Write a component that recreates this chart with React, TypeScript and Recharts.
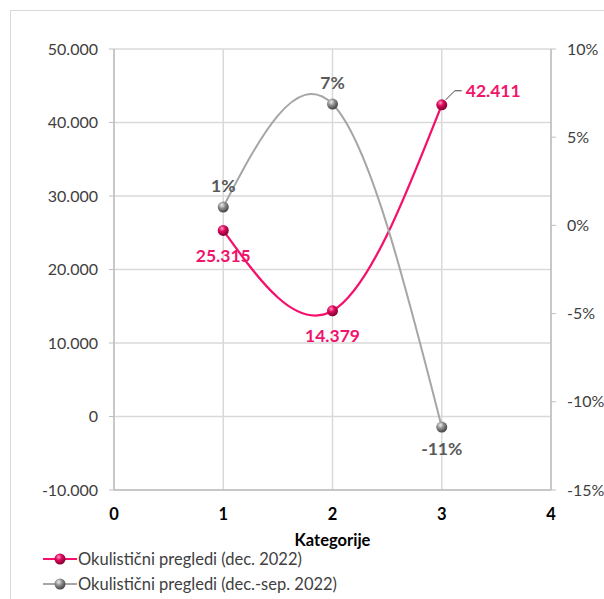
import { LineChart, Line, XAxis, YAxis, CartesianGrid, LabelList, Label } from "recharts";

// categories on the numeric x axis
const categories = [1, 2, 3];
// number of eye exams, December 2022
const pregledi = [25315, 14379, 42411];
// change Dec vs Sep 2022, in percent
const promjena = [1.04, 6.88, -11.43];

const xTicks = [0, 1, 2, 3, 4];
const leftTicks = [-10000, 0, 10000, 20000, 30000, 40000, 50000];
const rightTicks = [-15, -10, -5, 0, 5, 10];
const seriesNames = [
  "Okulistični pregledi (dec. 2022)",
  "Okulistični pregledi (dec.-sep. 2022)",
];

const data = categories.map((k, i) => ({
  k,
  pregledi: pregledi[i],
  promjena: promjena[i],
}));

const PINK = "#f5106c";
const PINK_TEXT = "#f0146c";
const GRAY = "#a6a6a6";
const GRAY_TEXT = "#595959";
const FONT = "Lato, 'Open Sans', sans-serif";
const LABEL_SIZE = 17.5;

const fmtThousands = (v: number) => {
  const s = Math.abs(v).toString().replace(/\B(?=(\d{3})+(?!\d))/g, ".");
  return v < 0 ? "-" + s : s;
};

const Ball = (fill: string) => (props: any) => {
  const { cx, cy, index } = props;
  if (cx == null || cy == null) return null;
  return <circle key={index} cx={cx} cy={cy} r={5.5} fill={fill} />;
};

const pinkLabel = (props: any) => {
  const { x, y, value, index } = props;
  if (index === 2) {
    return (
      <g>
        <path
          d={`M${x + 4},${y - 5} L${x + 13},${y - 14} L${x + 20},${y - 14}`}
          stroke="#404040"
          strokeWidth={1}
          fill="none"
        />
        <text
          x={x + 24}
          y={y - 14}
          dominantBaseline="central"
          fill={PINK_TEXT}
          fontSize={LABEL_SIZE}
          fontWeight={700}
          fontFamily={FONT}
        >
          {fmtThousands(value)}
        </text>
      </g>
    );
  }
  return (
    <text
      x={x}
      y={y + 25}
      textAnchor="middle"
      dominantBaseline="central"
      fill={PINK_TEXT}
      fontSize={LABEL_SIZE}
      fontWeight={700}
      fontFamily={FONT}
    >
      {fmtThousands(value)}
    </text>
  );
};

const grayLabel = (props: any) => {
  const { x, y, value, index } = props;
  const dy = index === 2 ? 21 : -22;
  return (
    <text
      x={x}
      y={y + dy}
      textAnchor="middle"
      dominantBaseline="central"
      fill={GRAY_TEXT}
      fontSize={LABEL_SIZE}
      fontWeight={700}
      fontFamily={FONT}
    >
      {Math.round(value) + "%"}
    </text>
  );
};

const LegendIcon = ({ color, ball }: { color: string; ball: string }) => (
  <svg width={34} height={14} style={{ display: "block" }}>
    <line x1={0} y1={7} x2={34} y2={7} stroke={color} strokeWidth={2} />
    <circle cx={17} cy={7} r={5.5} fill={ball} />
  </svg>
);

export default function App() {
  return (
    <div
      style={{
        position: "absolute",
        left: 0,
        top: 0,
        width: 604,
        height: 599,
        overflow: "hidden",
        background: "#fff",
        fontFamily: FONT,
      }}
    >
      <svg width={0} height={0} style={{ position: "absolute" }}>
        <defs>
          <radialGradient id="ballPink" cx="38%" cy="32%" r="70%">
            <stop offset="0%" stopColor="#ff9cc2" />
            <stop offset="40%" stopColor="#e00a5e" />
            <stop offset="100%" stopColor="#7a0030" />
          </radialGradient>
          <radialGradient id="ballGray" cx="38%" cy="32%" r="70%">
            <stop offset="0%" stopColor="#eeeeee" />
            <stop offset="45%" stopColor="#8c8c8c" />
            <stop offset="100%" stopColor="#404040" />
          </radialGradient>
        </defs>
      </svg>
      <div
        style={{
          position: "absolute",
          left: 10,
          top: 10,
          width: 620,
          height: 620,
          border: "1px solid #d9d9d9",
        }}
      />
      <div style={{ position: "absolute", left: 0, top: 0 }}>
        <LineChart
          width={604}
          height={599}
          data={data}
          margin={{ top: 49, right: 0, bottom: 49, left: 0 }}
        >
          <CartesianGrid yAxisId="left" stroke="#d9d9d9" strokeWidth={1.5} />
          <XAxis
            dataKey="k"
            type="number"
            domain={[0, 4]}
            ticks={xTicks}
            height={60}
            tickLine={false}
            tickMargin={12}
            axisLine={{ stroke: "#bfbfbf", strokeWidth: 1.5 }}
            tick={{ fill: "#000", fontSize: 16.5, fontWeight: 700, fontFamily: FONT }}
          >
            <Label
              value="Kategorije"
              position="insideBottom"
              offset={4}
              fill="#000"
              fontSize={16.5}
              fontWeight={700}
              fontFamily={FONT}
            />
          </XAxis>
          <YAxis
            yAxisId="left"
            domain={[-10000, 50000]}
            ticks={leftTicks}
            width={114}
            tickSize={5}
            tickMargin={11}
            tickFormatter={fmtThousands}
            axisLine={{ stroke: "#bfbfbf", strokeWidth: 1.5 }}
            tickLine={{ stroke: "#bfbfbf" }}
            tick={{ fill: "#404040", fontSize: 16, fontFamily: FONT }}
          />
          <YAxis
            yAxisId="right"
            orientation="right"
            domain={[-15, 10]}
            ticks={rightTicks}
            width={53}
            tickSize={5}
            tickMargin={11}
            tickFormatter={(v: number) => `${v}%`}
            axisLine={{ stroke: "#bfbfbf", strokeWidth: 1.5 }}
            tickLine={{ stroke: "#bfbfbf" }}
            tick={{ fill: "#404040", fontSize: 16, fontFamily: FONT }}
          />
          <Line
            yAxisId="left"
            dataKey="pregledi"
            name={seriesNames[0]}
            type="natural"
            stroke={PINK}
            strokeWidth={2.25}
            dot={Ball("url(#ballPink)")}
            activeDot={false}
            isAnimationActive={false}
          >
            <LabelList dataKey="pregledi" content={pinkLabel} />
          </Line>
          <Line
            yAxisId="right"
            dataKey="promjena"
            name={seriesNames[1]}
            type="natural"
            stroke={GRAY}
            strokeWidth={2}
            dot={Ball("url(#ballGray)")}
            activeDot={false}
            isAnimationActive={false}
          >
            <LabelList dataKey="promjena" content={grayLabel} />
          </Line>
        </LineChart>
      </div>
      {[
        { name: seriesNames[0], color: PINK, ball: "url(#ballPink)", top: 549 },
        { name: seriesNames[1], color: GRAY, ball: "url(#ballGray)", top: 574 },
      ].map((s) => (
        <div
          key={s.name}
          style={{
            position: "absolute",
            left: 43,
            top: s.top,
            height: 20,
            display: "flex",
            alignItems: "center",
            gap: 1,
            fontSize: 16.5,
            color: "#404040",
            whiteSpace: "nowrap",
          }}
        >
          <LegendIcon color={s.color} ball={s.ball} />
          <span>{s.name}</span>
        </div>
      ))}
    </div>
  );
}
